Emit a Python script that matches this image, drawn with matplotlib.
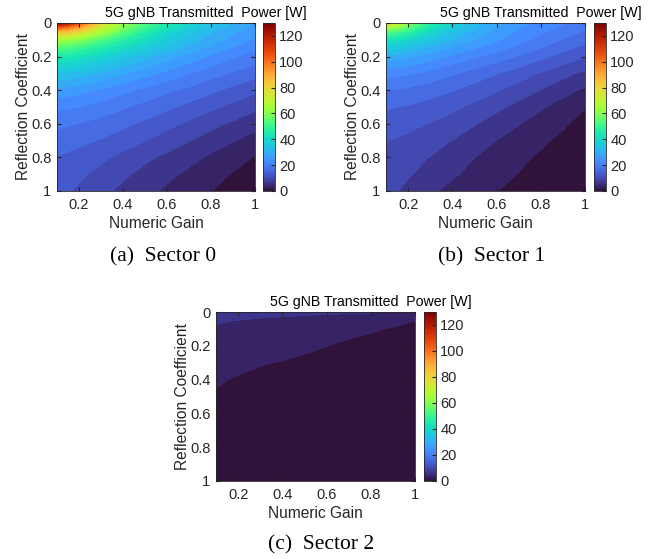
import numpy as np
import matplotlib
matplotlib.use('Agg')
import matplotlib.pyplot as plt
from matplotlib import cm, colors

plt.rcParams['font.family'] = ['Liberation Sans', 'DejaVu Sans']

# grid of the read-off values
gain = [0.1, 0.15, 0.2, 0.3, 0.4, 0.5, 0.6, 0.7, 0.8, 0.9, 1.0]
refl = [0, 0.02, 0.05, 0.1, 0.15, 0.2, 0.3, 0.4, 0.5, 0.6, 0.7, 0.8, 0.9, 1.0]

# transmitted power [W], one row per reflection coefficient
power_s0 = [
    [130, 120, 106, 80, 64, 54, 46.5, 40.5, 36, 32, 29],
    [108, 103, 94, 75.5, 61.5, 52, 45, 39.5, 35, 31.3, 28.5],
    [88, 85, 80, 67, 56, 47.8, 41.2, 36.5, 32.8, 29.5, 27],
    [65, 63.5, 61, 54.5, 48, 42.5, 38, 34, 30.8, 28, 25.3],
    [54, 53, 51, 46.5, 42, 38, 34.5, 31, 28, 25.5, 23.2],
    [46, 45, 43.5, 40, 36.5, 33.5, 30.5, 27.8, 25.2, 23, 21.2],
    [35.5, 35, 34, 31.8, 29.3, 27, 24.8, 22.8, 20.8, 19, 17.3],
    [28, 27.5, 27, 25.3, 23.5, 21.8, 20.1, 18.5, 16.8, 15.1, 13.6],
    [23.5, 23, 22.5, 21.2, 19.8, 18.3, 16.8, 15.2, 13.6, 12, 10.4],
    [20.2, 19.8, 19.3, 18.2, 16.9, 15.5, 13.9, 12.3, 10.6, 9.1, 7.6],
    [17.8, 17.4, 17, 15.9, 14.5, 13, 11.4, 9.8, 8.2, 6.6, 5.1],
    [16.0, 15.6, 15.0, 13.6, 12.0, 10.4, 8.9, 7.4, 5.9, 4.4, 3.06],
    [14.8, 14.3, 13.5, 12.0, 10.3, 8.7, 7.2, 5.8, 4.4, 3.0, 2.1],
    [14.0, 13.3, 12.4, 10.6, 8.9, 7.3, 5.9, 4.7, 3.3, 2.2, 1.2],
]

power_s1 = [
    [84, 72, 62, 48, 40, 34, 30, 27, 25, 23, 21],
    [68, 64, 57, 45, 38, 33, 29.3, 26.3, 24.2, 22.2, 20.2],
    [55, 53, 50, 41.5, 35.5, 31.3, 28.2, 25.4, 23.2, 21.2, 19.0],
    [44, 42.5, 40.5, 36, 32, 29, 26.3, 23.8, 21.5, 19.3, 17.2],
    [37, 36, 34.5, 31.5, 28.5, 26, 23.8, 21.5, 19.2, 17, 15],
    [31, 30.5, 29.5, 27.3, 25, 23, 21, 19, 16.9, 14.9, 13.0],
    [24, 23.5, 23, 21.5, 19.8, 18, 16.3, 14.5, 12.6, 10.7, 8.8],
    [19.5, 19.2, 18.7, 17.6, 16.3, 14.8, 13.2, 11.4, 9.5, 7.6, 5.8],
    [16.5, 16.2, 15.8, 14.9, 13.6, 12.1, 10.4, 8.6, 6.8, 5.0, 3.3],
    [14.5, 14.2, 13.8, 12.8, 11.5, 9.9, 8.2, 6.6, 5.0, 3.6, 2.2],
    [13.0, 12.7, 12.2, 11.1, 9.6, 8.0, 6.4, 5.0, 3.7, 2.6, 1.6],
    [12.0, 11.6, 10.9, 9.6, 8.0, 6.5, 5.1, 3.9, 2.8, 1.9, 1.2],
    [11.3, 10.8, 10.0, 8.5, 6.9, 5.5, 4.2, 3.1, 2.2, 1.5, 0.9],
    [10.8, 9.8, 8.8, 7.0, 5.5, 4.3, 3.3, 2.5, 1.8, 1.2, 0.7],
]

power_s2 = [
    [8.2, 7.9, 7.7, 7.4, 7.2, 7.0, 6.9, 6.8, 6.65, 6.55, 6.45],
    [7.65, 7.4, 7.2, 6.9, 6.7, 6.45, 6.2, 6.0, 5.8, 5.5, 5.25],
    [6.8, 6.6, 6.4, 6.0, 5.7, 5.4, 5.0, 4.6, 4.25, 3.9, 3.25],
    [6.1, 5.85, 5.6, 5.1, 4.7, 4.35, 4.0, 3.75, 3.5, 3.0, 2.5],
    [5.5, 5.25, 5.0, 4.6, 4.25, 3.9, 3.6, 3.3, 2.95, 2.55, 2.1],
    [5.0, 4.75, 4.5, 4.15, 3.9, 3.55, 3.25, 2.9, 2.6, 2.25, 1.9],
    [4.1, 3.8, 3.6, 3.33, 3.15, 2.9, 2.6, 2.35, 2.1, 1.8, 1.55],
    [3.38, 3.25, 3.1, 2.9, 2.7, 2.5, 2.25, 2.0, 1.75, 1.5, 1.25],
    [3.1, 3.0, 2.85, 2.65, 2.45, 2.25, 2.0, 1.75, 1.5, 1.25, 1.05],
    [2.8, 2.7, 2.55, 2.3, 2.1, 1.9, 1.65, 1.4, 1.2, 1.0, 0.75],
    [2.5, 2.4, 2.25, 2.1, 1.9, 1.65, 1.4, 1.2, 1.05, 0.8, 0.7],
    [2.25, 2.2, 2.0, 1.9, 1.65, 1.5, 1.3, 1.1, 0.9, 0.75, 0.6],
    [2.0, 1.95, 1.9, 1.7, 1.5, 1.35, 1.2, 1.0, 0.8, 0.7, 0.5],
    [1.9, 1.8, 1.7, 1.6, 1.4, 1.3, 1.05, 0.9, 0.75, 0.6, 0.45],
]

captions = ['(a)  Sector 0', '(b)  Sector 1', '(c)  Sector 2']

PMAX = 130
LEVELS = np.linspace(0, PMAX, 41)
AX_COL = '0.15'

# each filled band takes the colour of its lower level
turbo = plt.get_cmap('turbo')
band_colors = [turbo(lv / PMAX) for lv in LEVELS[:-1]]

fig = plt.figure(figsize=(6.56, 5.59), dpi=100)
W, H = 656.0, 559.0

def box(x0, y0, x1, y1):
    # pixel box -> figure fraction
    return [x0 / W, 1 - y1 / H, (x1 - x0) / W, (y1 - y0) / H]

# power grid, axes box, colorbar box, title centre, caption centre
panels = [
    (power_s0, box(57, 23, 255, 191), box(263, 23, 275, 191), (206, 13), (163, 257)),
    (power_s1, box(386, 23, 585, 191), box(594, 23, 606, 191), (541, 13), (492, 257)),
    (power_s2, box(216, 312, 415, 481), box(424, 312, 436, 481), (371, 302), (321, 545)),
]

G, R = np.meshgrid(gain, refl)
norm = colors.Normalize(vmin=0, vmax=PMAX)

for (pw, apos, cpos, ttl, cap), cap_txt in zip(panels, captions):
    ax = fig.add_axes(apos)
    cs = ax.contourf(G, R, np.array(pw), levels=LEVELS, colors=band_colors)
    # close the hairline seams between bands
    cs.set_edgecolor('face')
    cs.set_linewidth(0.6)
    ax.set_xlim(0.1, 1)
    ax.set_ylim(1, 0)
    ax.set_xticks([0.2, 0.4, 0.6, 0.8, 1])
    ax.set_xticklabels(['0.2', '0.4', '0.6', '0.8', '1'])
    ax.set_yticks([0, 0.2, 0.4, 0.6, 0.8, 1])
    ax.set_yticklabels(['0', '0.2', '0.4', '0.6', '0.8', '1'])
    ax.tick_params(direction='in', top=True, right=True, length=3,
                   labelsize=10.5, colors=AX_COL)
    ax.tick_params(axis='x', pad=5)
    ax.tick_params(axis='y', pad=4)
    for s in ax.spines.values():
        s.set_color(AX_COL)
        s.set_linewidth(0.6)
        s.set_zorder(3)
    ax.set_xlabel('Numeric Gain', fontsize=11.2, color=AX_COL, labelpad=3)
    ax.set_ylabel('Reflection Coefficient', fontsize=11.2, color=AX_COL, labelpad=0)

    cax = fig.add_axes(cpos)
    sm = cm.ScalarMappable(norm=norm, cmap='turbo')
    cb = fig.colorbar(sm, cax=cax, ticks=[0, 20, 40, 60, 80, 100, 120])
    cb.ax.tick_params(direction='in', length=3, labelsize=10.5, colors=AX_COL, pad=3)
    cb.outline.set_edgecolor(AX_COL)
    cb.outline.set_linewidth(0.6)

    fig.text(ttl[0] / W, 1 - ttl[1] / H, '5G gNB Transmitted  Power [W]',
             fontsize=10.2, color='black', ha='center', va='center')
    fig.text(cap[0] / W, 1 - cap[1] / H, cap_txt, fontsize=15.5,
             family=['Liberation Serif', 'DejaVu Serif'], ha='center', va='center')

fig.savefig('out.png', dpi=100)
